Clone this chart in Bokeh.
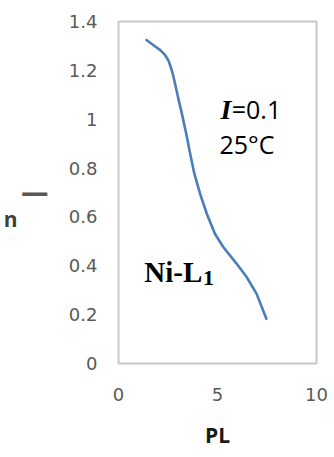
from bokeh.plotting import figure
from bokeh.models import Range1d, Label, FixedTicker, LinearAxis
from bokeh.embed import file_html
from bokeh.resources import INLINE

# data
pl = [1.41, 1.77, 2.11, 2.36, 2.53, 2.66, 2.78, 2.91, 3.05, 3.20, 3.42, 3.62,
      3.83, 4.12, 4.46, 4.87, 5.29, 5.96, 6.47, 6.97, 7.47]
nbar = [1.324, 1.303, 1.283, 1.262, 1.239, 1.208, 1.173, 1.126, 1.075, 1.023,
        0.941, 0.859, 0.777, 0.695, 0.613, 0.531, 0.477, 0.409, 0.354, 0.286, 0.183]
x_ticks = [0, 5, 10]
y_ticks = [0, 0.2, 0.4, 0.6, 0.8, 1.0, 1.2, 1.4]

p = figure(width=334, height=457, output_backend="svg", toolbar_location=None,
           x_range=Range1d(0, 10), y_range=Range1d(0, 1.4),
           min_border_left=118, min_border_right=18, min_border_top=21,
           min_border_bottom=94)

p.line(pl, nbar, line_color="#4A7EBB", line_width=2.6, line_cap="round", line_join="round")

p.xgrid.visible = False
p.ygrid.visible = False
p.outline_line_color = "#C8C8C8"
p.outline_line_width = 2

tick_font = "DejaVu Sans"
for ax in (p.xaxis[0], p.yaxis[0]):
    ax.axis_line_color = None
    ax.major_tick_line_color = None
    ax.minor_tick_line_color = None
    ax.major_tick_out = 0
    ax.major_tick_in = 0
    ax.major_label_text_font = tick_font
    ax.major_label_text_font_size = "18px"
    ax.major_label_text_color = "#595959"

p.xaxis.ticker = FixedTicker(ticks=x_ticks)
p.yaxis.ticker = FixedTicker(ticks=y_ticks)
p.yaxis.major_label_overrides = {0: "0", 1: "1"}
p.xaxis.major_label_standoff = 24
p.yaxis.major_label_standoff = 21

p.xaxis.axis_label = "PL"
p.xaxis.axis_label_text_font = "Open Sans"
p.xaxis.axis_label_text_font_style = "bold"
p.xaxis.axis_label_text_font_size = "21px"
p.xaxis.axis_label_text_color = "#1a1a1a"
p.xaxis.axis_label_standoff = 17

# y axis title: bar (inner) and "n" (outer)
p.yaxis.axis_label = "—"
p.yaxis.axis_label_orientation = "horizontal"
p.yaxis.axis_label_text_font = "DejaVu Sans"
p.yaxis.axis_label_text_font_style = "bold"
p.yaxis.axis_label_text_font_size = "28px"
p.yaxis.axis_label_text_color = "#595959"
p.yaxis.axis_label_standoff = 17

outer = LinearAxis(ticker=FixedTicker(ticks=[]), axis_label="\nn",
                   axis_line_color=None, major_tick_line_color=None,
                   minor_tick_line_color=None, major_tick_out=0, major_tick_in=0,
                   major_label_standoff=0, axis_label_standoff=0,
                   axis_label_orientation="horizontal",
                   axis_label_text_font="Open Sans", axis_label_text_font_style="bold",
                   axis_label_text_font_size="21px", axis_label_text_color="#404040",
                   axis_label_text_line_height=1.9)
p.add_layout(outer, "left")

# annotations
p.add_layout(Label(x=5.15, y=1.04, text="I", text_font="Liberation Serif",
                   text_font_style="bold italic", text_font_size="28px",
                   text_color="black", text_baseline="alphabetic", text_align="left"))
p.add_layout(Label(x=5.72, y=1.04, text="=0.1", text_font="Open Sans",
                   text_font_size="25px", text_color="black",
                   text_baseline="alphabetic", text_align="left"))
p.add_layout(Label(x=5.1, y=0.9, text="25°C", text_font="Open Sans",
                   text_font_size="25px", text_color="black",
                   text_baseline="alphabetic", text_align="left"))
p.add_layout(Label(x=1.3, y=0.375, text="Ni-L", text_font="Liberation Serif",
                   text_font_style="bold", text_font_size="29px", text_color="black",
                   text_baseline="alphabetic", text_align="left"))
p.add_layout(Label(x=4.27, y=0.35, text="1", text_font="Liberation Serif",
                   text_font_style="bold", text_font_size="22px", text_color="black",
                   text_baseline="alphabetic", text_align="left"))

open("out.html", "w").write(file_html(p, INLINE))
